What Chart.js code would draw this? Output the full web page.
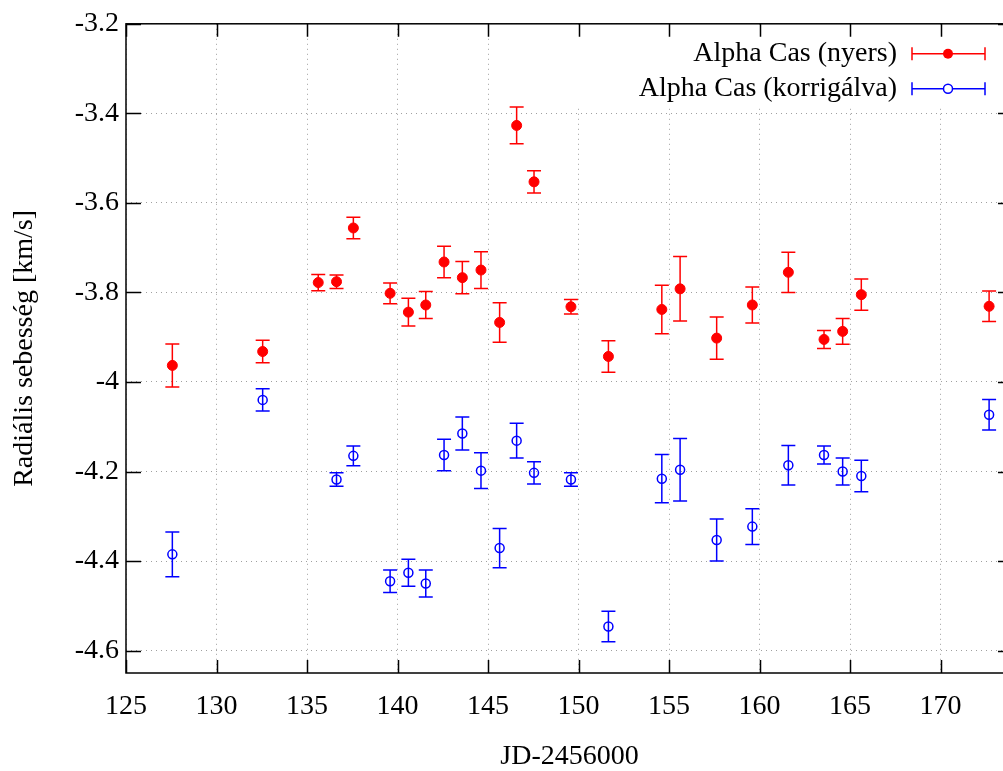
<!DOCTYPE html>
<html lang="hu">
<head>
<meta charset="utf-8">
<title>Alpha Cas radiális sebesség</title>
<script src="https://cdn.jsdelivr.net/npm/chart.js@4.4.1/dist/chart.umd.min.js"></script>
<style>
    html, body { margin: 0; padding: 0; background: #fff; overflow: hidden; }
    /* the plot frame runs past the right edge of the window, as in the original */
    #wrap { position: relative; width: 1020px; height: 771px; }
</style>
</head>
<body>
<div id="wrap"><canvas id="rvChart"></canvas></div>
<script>
// JD-2456000 of each spectrum
const jd = [127.56, 132.55, 135.62, 136.63, 137.56, 139.59, 140.60, 141.56, 142.57, 143.58,
            144.61, 145.64, 146.58, 147.54, 149.58, 151.65, 154.60, 155.61, 157.63, 159.60,
            161.59, 163.56, 164.59, 165.62, 172.68];

// raw radial velocity [km/s] and its error
const rawRv  = [-3.963, -3.932, -3.778, -3.776, -3.656, -3.802, -3.844, -3.828, -3.732, -3.767,
                -3.750, -3.867, -3.427, -3.553, -3.832, -3.943, -3.838, -3.792, -3.902, -3.828,
                -3.755, -3.905, -3.887, -3.805, -3.831];
const rawErr = [0.048, 0.025, 0.018, 0.015, 0.024, 0.023, 0.031, 0.030, 0.035, 0.036,
                0.041, 0.044, 0.041, 0.025, 0.016, 0.035, 0.054, 0.072, 0.047, 0.040,
                0.045, 0.020, 0.029, 0.035, 0.034];

// corrected radial velocity (no value for 135.6)
const corrRv  = [-4.385, -4.040, null, -4.218, -4.165, -4.445, -4.426, -4.450, -4.163, -4.115,
                 -4.198, -4.371, -4.131, -4.203, -4.218, -4.546, -4.216, -4.196, -4.353, -4.323,
                 -4.186, -4.163, -4.200, -4.210, -4.073];
const corrErr = [0.050, 0.025, null, 0.015, 0.022, 0.025, 0.030, 0.030, 0.035, 0.037,
                 0.040, 0.044, 0.039, 0.025, 0.015, 0.034, 0.054, 0.070, 0.047, 0.040,
                 0.044, 0.020, 0.030, 0.035, 0.034];

const xTicks = [125, 130, 135, 140, 145, 150, 155, 160, 165, 170];
const yTicks = [-4.6, -4.4, -4.2, -4.0, -3.8, -3.6, -3.4, -3.2];

const serif = "'Liberation Serif', 'DejaVu Serif', serif";
const textFont = { family: serif, size: 28 };

function points(values, errors) {
    return jd.map((x, i) => ({ x: x, y: values[i], err: errors[i] }))
             .filter(p => p.y !== null);
}

// vertical error bars with caps, drawn under the markers
const errorBars = {
    id: "errorBars",
    beforeDatasetsDraw(chart) {
        const { ctx, scales: { x, y } } = chart;
        chart.data.datasets.forEach(ds => {
            ctx.save();
            ctx.strokeStyle = ds.borderColor;
            ctx.lineWidth = 1.5;
            ctx.beginPath();
            ds.data.forEach(p => {
                const px = x.getPixelForValue(p.x);
                const top = y.getPixelForValue(p.y + p.err);
                const bot = y.getPixelForValue(p.y - p.err);
                ctx.moveTo(px, top); ctx.lineTo(px, bot);
                ctx.moveTo(px - 7, top); ctx.lineTo(px + 7, top);
                ctx.moveTo(px - 7, bot); ctx.lineTo(px + 7, bot);
            });
            ctx.stroke();
            ctx.restore();
        });
    }
};

// gnuplot style key in the top right corner
const keyBox = {
    id: "keyBox",
    beforeDatasetsDraw(chart) {
        const { ctx, chartArea: a } = chart;
        ctx.save();
        ctx.fillStyle = "#fff";
        ctx.fillRect(a.right - 450, a.top + 1, 450, 81);
        ctx.font = "28px " + serif;
        ctx.textAlign = "right";
        ctx.textBaseline = "middle";
        chart.data.datasets.forEach((ds, i) => {
            const rowY = a.top + 30 + i * 35;
            const mid = a.right - 65;
            ctx.fillStyle = "#000";
            ctx.fillText(ds.label, a.right - 116, rowY);

            ctx.strokeStyle = ds.borderColor;
            ctx.lineWidth = 1.5;
            ctx.beginPath();
            ctx.moveTo(a.right - 101, rowY); ctx.lineTo(a.right - 28, rowY);
            ctx.moveTo(a.right - 101, rowY - 6.5); ctx.lineTo(a.right - 101, rowY + 6.5);
            ctx.moveTo(a.right - 28, rowY - 6.5); ctx.lineTo(a.right - 28, rowY + 6.5);
            ctx.stroke();

            ctx.beginPath();
            ctx.arc(mid, rowY, ds.pointRadius, 0, Math.PI * 2);
            if (ds.filled) {
                ctx.fillStyle = ds.borderColor;
                ctx.fill();
            } else {
                ctx.fillStyle = "#fff";
                ctx.fill();
                ctx.stroke();
            }
        });
        ctx.restore();
    }
};

// border and inward tick marks on all four sides
const frame = {
    id: "frame",
    afterDraw(chart) {
        const { ctx, chartArea: a, scales: { x, y } } = chart;
        ctx.save();
        ctx.strokeStyle = "#000";
        ctx.lineWidth = 1.5;
        ctx.strokeRect(a.left, a.top, a.right - a.left, a.bottom - a.top);
        ctx.beginPath();
        x.ticks.forEach(t => {
            const px = Math.round(x.getPixelForValue(t.value)) + 0.5;
            ctx.moveTo(px, a.bottom); ctx.lineTo(px, a.bottom - 13);
            ctx.moveTo(px, a.top); ctx.lineTo(px, a.top + 13);
        });
        y.ticks.forEach(t => {
            const py = Math.round(y.getPixelForValue(t.value)) + 0.5;
            ctx.moveTo(a.left, py); ctx.lineTo(a.left + 15, py);
            ctx.moveTo(a.right, py); ctx.lineTo(a.right - 15, py);
        });
        ctx.stroke();
        ctx.restore();
    }
};

new Chart(document.getElementById("rvChart"), {
    type: "scatter",
    data: {
        datasets: [{
            label: "Alpha Cas (nyers)",
            data: points(rawRv, rawErr),
            filled: true,
            pointStyle: "circle",
            pointRadius: 5,
            backgroundColor: "#ff0000",
            borderColor: "#ff0000",
            borderWidth: 1
        }, {
            label: "Alpha Cas (korrigálva)",
            data: points(corrRv, corrErr),
            filled: false,
            pointStyle: "circle",
            pointRadius: 4.5,
            backgroundColor: "rgba(0,0,0,0)",
            borderColor: "#0000ff",
            borderWidth: 1.5
        }]
    },
    options: {
        responsive: true,
        maintainAspectRatio: false,
        animation: false,
        events: [],
        layout: { padding: { top: 18, right: 7, bottom: 0, left: 0 } },
        plugins: {
            legend: { display: false },
            tooltip: { enabled: false }
        },
        scales: {
            x: {
                type: "linear",
                min: 125,
                max: 174,
                afterBuildTicks: s => { s.ticks = xTicks.map(v => ({ value: v })); },
                afterFit: s => { s.height = 98; },
                ticks: { color: "#000", font: textFont, padding: 17, callback: v => String(v) },
                grid: { color: "#a0a0a0", lineWidth: 1, drawTicks: false },
                border: { display: false, dash: [1, 4] },
                title: {
                    display: true,
                    text: "JD-2456000",
                    color: "#000",
                    font: { family: serif, size: 28, lineHeight: 1 },
                    padding: { top: 0, bottom: 0 }
                }
            },
            y: {
                type: "linear",
                min: -4.65,
                max: -3.2,
                afterBuildTicks: s => { s.ticks = yTicks.map(v => ({ value: v })); },
                afterFit: s => { s.width = 126; },
                ticks: { color: "#000", font: textFont, padding: 7, callback: v => String(+v.toFixed(1)) },
                grid: { color: "#a0a0a0", lineWidth: 1, drawTicks: false },
                border: { display: false, dash: [1, 4] },
                title: {
                    display: true,
                    text: "Radiális sebesség [km/s]",
                    color: "#000",
                    font: { family: serif, size: 28, lineHeight: 1 },
                    padding: { top: 11, bottom: 0 }
                }
            }
        }
    },
    plugins: [keyBox, errorBars, frame]
});
</script>
</body>
</html>
